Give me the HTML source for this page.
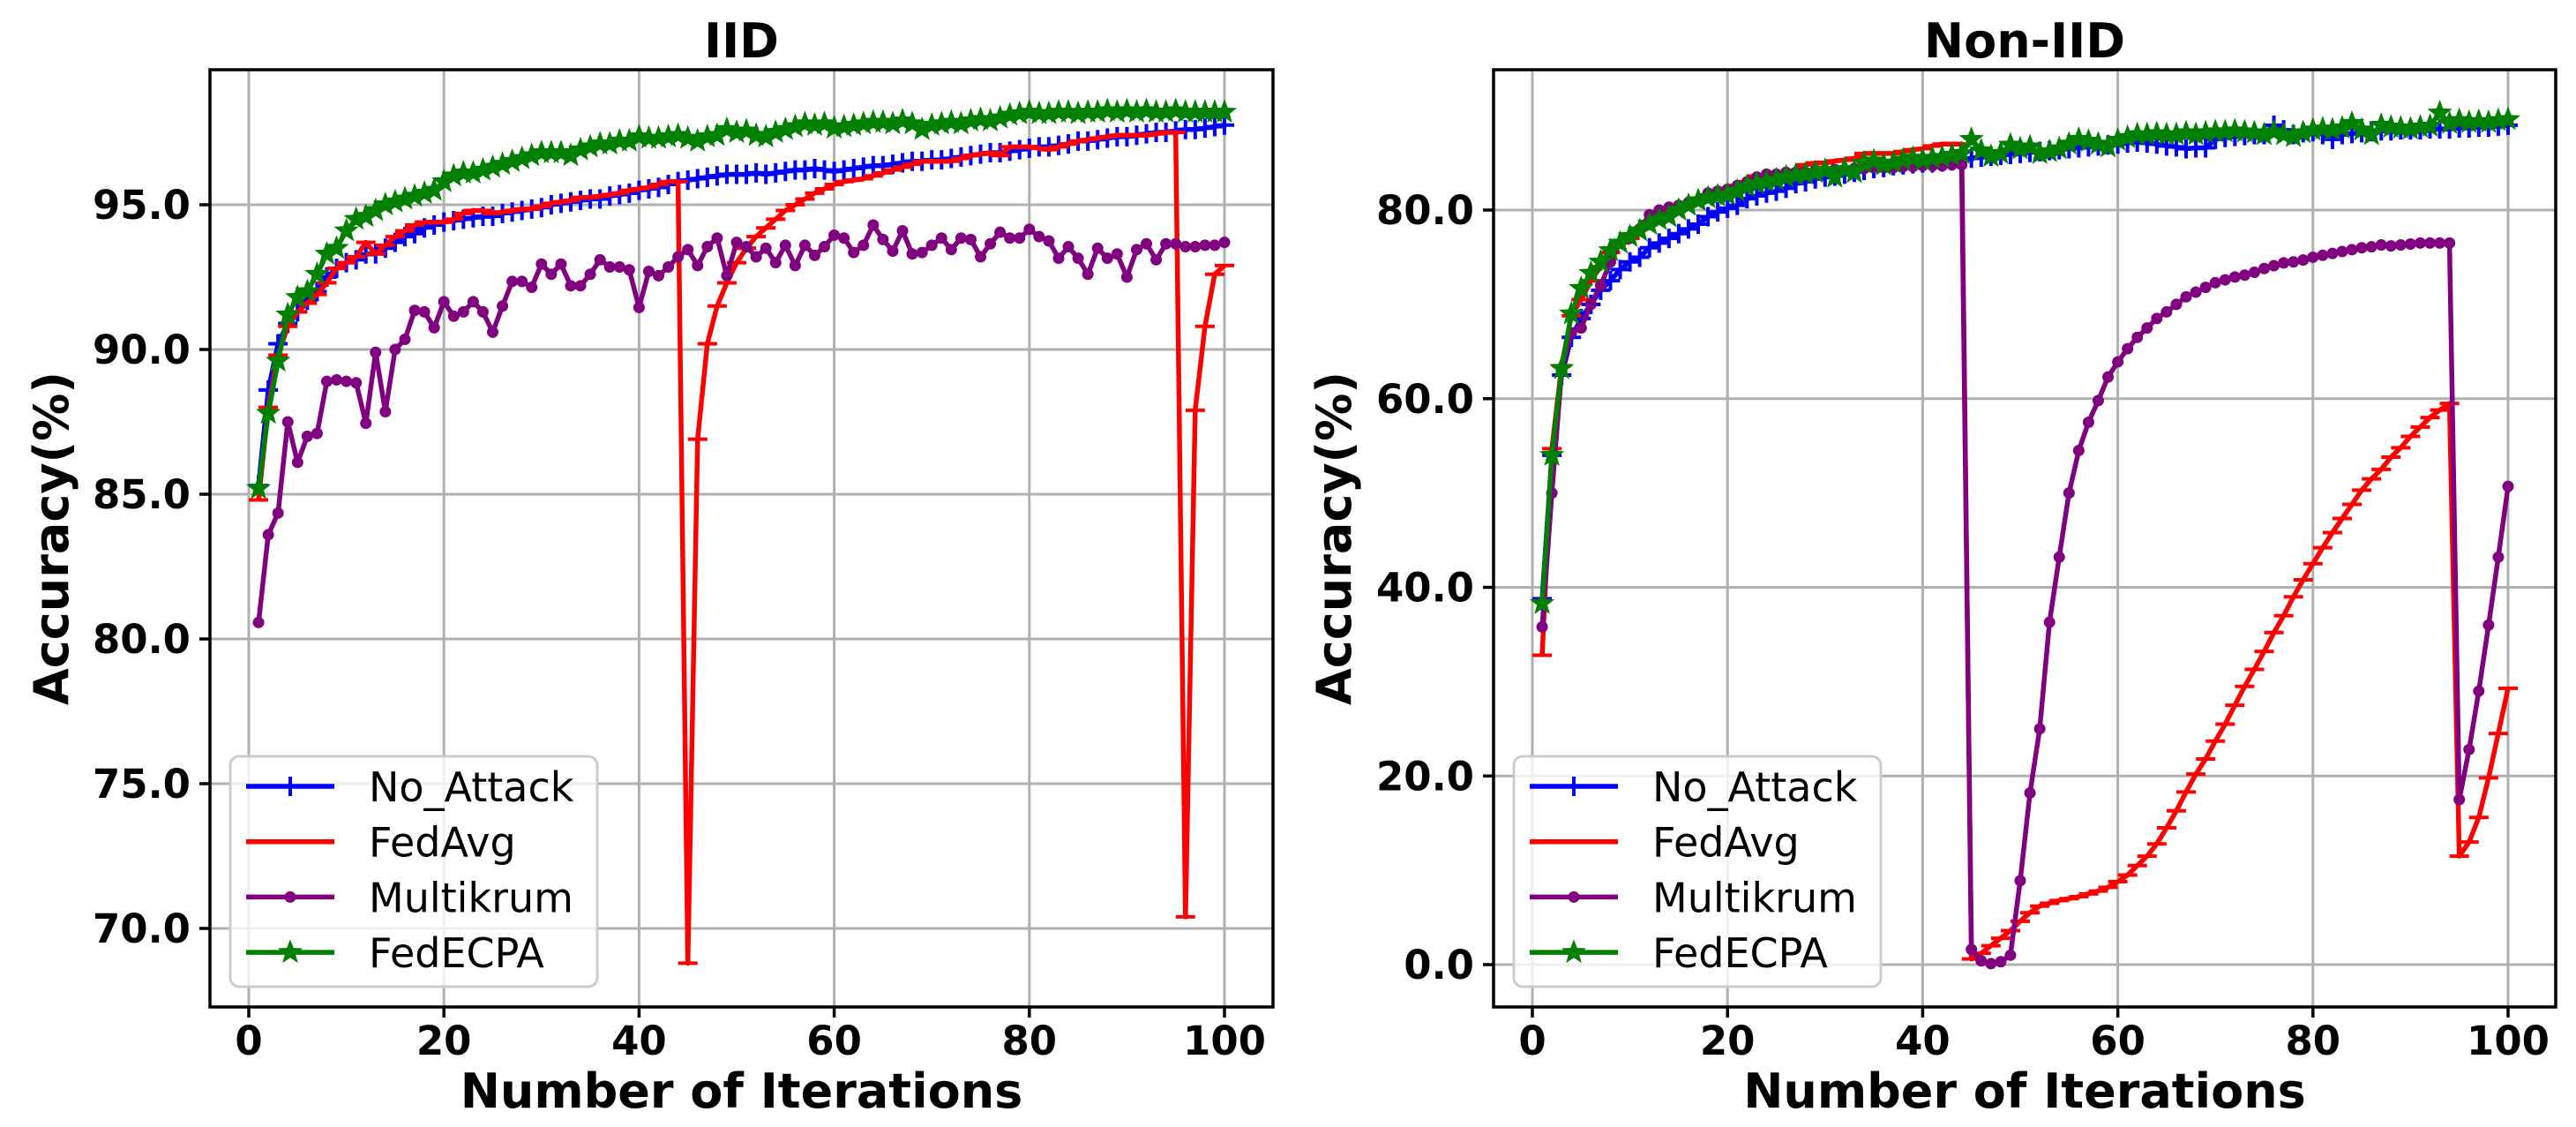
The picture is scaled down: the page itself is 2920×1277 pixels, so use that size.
<!DOCTYPE html>
<html><head><meta charset="utf-8"><style>
html,body{margin:0;padding:0;background:#fff;}
svg{display:block;font-family:"DejaVu Sans","Liberation Sans",sans-serif;}
</style></head><body>
<svg id="fig" width="2920" height="1277" viewBox="0 0 2920 1277" xmlns="http://www.w3.org/2000/svg"></svg>
<script>
const iterations = Array.from({length:100},(_, i)=>i+1);
const xTicks = [0,20,40,60,80,100];
const iidYTicks = [70,75,80,85,90,95];
const noniidYTicks = [0,20,40,60,80];
const seriesNames = ["No_Attack","FedAvg","Multikrum","FedECPA"];

const iidNoAttack = [85.3,88.6,90.2,90.9,91.3,91.7,92.0,92.5,92.8,93.0,93.1,93.3,93.3,93.5,93.7,93.9,94.0,94.2,94.3,94.4,
94.45,94.5,94.55,94.6,94.6,94.7,94.75,94.8,94.85,94.9,95.0,95.05,95.1,95.15,95.2,95.2,95.3,95.35,95.4,95.5,
95.55,95.6,95.7,95.8,95.85,95.9,95.95,96.0,96.05,96.05,96.05,96.1,96.05,96.1,96.15,96.2,96.2,96.25,96.2,96.15,
96.2,96.25,96.3,96.35,96.35,96.4,96.45,96.5,96.5,96.55,96.55,96.6,96.65,96.7,96.75,96.8,96.8,96.85,96.9,96.95,
97.0,97.0,97.05,97.1,97.2,97.2,97.25,97.3,97.35,97.35,97.4,97.45,97.5,97.5,97.55,97.6,97.6,97.65,97.7,97.75];
const iidFedAvg = [84.8,88.0,89.8,90.8,91.3,91.6,91.9,92.3,92.8,93.0,93.2,93.7,93.3,93.6,93.9,94.1,94.3,94.4,94.4,94.4,
94.5,94.7,94.8,94.8,94.7,94.75,94.8,94.85,94.85,94.95,95.05,95.1,95.15,95.25,95.25,95.3,95.35,95.4,95.5,95.55,95.6,95.7,95.8,95.8,
68.8,86.9,90.2,91.5,92.3,93.0,93.5,93.9,94.2,94.5,94.8,95.0,95.2,95.4,95.55,95.7,
95.8,95.85,95.9,96.0,96.1,96.2,96.3,96.4,96.5,96.5,96.5,96.5,96.6,96.7,96.75,96.8,96.7,97.0,97.0,97.0,
96.95,96.9,97.0,97.1,97.2,97.25,97.3,97.35,97.4,97.4,97.4,97.4,97.45,97.5,97.5,
70.4,87.9,90.8,92.6,92.9];
const iidMultikrum = [80.57,83.6,84.35,87.5,86.1,87.0,87.1,88.9,88.95,88.9,88.85,87.45,89.9,87.85,90.0,90.35,91.35,91.3,90.75,91.65,
91.15,91.3,91.65,91.3,90.6,91.5,92.35,92.35,92.15,92.95,92.6,92.95,92.2,92.2,92.6,93.1,92.85,92.85,92.75,91.45,
92.7,92.55,92.85,93.2,93.45,92.9,93.55,93.85,92.55,93.7,93.55,93.2,93.5,93.0,93.6,92.9,93.6,93.25,93.55,93.95,
93.85,93.35,93.6,94.3,93.8,93.4,94.1,93.3,93.35,93.6,93.85,93.45,93.85,93.8,93.2,93.65,94.05,93.85,93.85,94.15,
93.9,93.75,93.15,93.55,93.15,92.6,93.5,93.15,93.3,92.5,93.45,93.65,93.1,93.65,93.65,93.55,93.55,93.6,93.6,93.7];
const iidFedECPA = [85.2,87.8,89.6,91.2,91.8,92.0,92.6,93.3,93.5,94.1,94.5,94.6,94.8,95.0,95.1,95.2,95.3,95.4,95.5,95.8,
96.0,96.1,96.1,96.2,96.3,96.4,96.5,96.6,96.7,96.8,96.8,96.8,96.7,96.9,97.0,97.1,97.1,97.2,97.2,97.35,
97.3,97.3,97.35,97.4,97.3,97.2,97.35,97.4,97.6,97.5,97.55,97.4,97.35,97.5,97.6,97.7,97.8,97.75,97.8,97.65,
97.7,97.75,97.8,97.85,97.85,97.8,97.9,97.8,97.6,97.75,97.8,97.85,97.8,97.9,97.95,97.9,98.0,98.1,98.15,98.2,
98.15,98.15,98.2,98.2,98.15,98.2,98.2,98.25,98.2,98.25,98.2,98.25,98.2,98.2,98.25,98.2,98.2,98.2,98.2,98.2];

const nonNoAttack = [38.8,54.0,62.5,66.5,68.5,70.0,71.5,72.5,73.7,74.5,75.0,76.0,76.5,77.0,77.5,78.0,78.5,79.3,79.8,80.2,
80.5,81.2,81.5,81.8,82.0,82.3,82.8,83.0,83.3,83.5,83.6,83.8,84.0,84.2,84.4,84.5,84.7,84.8,84.9,85.0,
85.0,85.1,85.2,85.3,85.5,85.6,85.7,85.8,85.9,86.0,86.1,86.2,86.3,86.4,86.5,86.6,86.7,86.8,86.9,87.0,
87.1,87.2,87.1,87.0,86.8,86.7,86.5,86.6,86.6,87.5,87.7,87.8,87.9,88.0,88.0,89.0,88.5,88.0,88.2,88.3,
88.0,87.5,88.0,88.1,88.2,88.3,88.4,88.4,88.5,88.5,88.5,88.6,88.6,88.6,88.7,88.7,88.8,88.8,88.9,89.0];
const nonFedAvg = [32.8,54.7,63.5,68.8,70.5,72.5,74.0,75.5,76.5,77.0,78.0,78.8,79.3,79.8,80.3,80.8,81.2,81.6,82.0,82.3,
82.6,83.0,83.6,83.6,83.8,84.0,84.2,84.8,85.0,85.0,85.2,85.3,85.5,86.0,86.0,86.0,86.0,86.2,86.4,86.5,86.8,87.0,87.0,87.0,
0.6,1.2,2.0,2.8,3.6,4.6,5.5,6.2,6.5,6.8,7.0,7.2,7.5,7.8,8.2,8.8,9.5,10.5,11.5,12.8,14.5,16.3,18.3,20.2,21.8,23.7,
25.5,27.5,29.5,31.3,33.2,35.2,37.0,39.0,40.8,42.5,44.2,45.8,47.3,48.8,50.3,51.5,52.5,53.8,54.8,56.0,57.0,58.0,58.8,59.5,
11.5,13.0,15.6,19.8,24.5,29.3];
const nonMultikrum = [35.8,50.0,63.0,67.0,67.5,70.0,72.0,74.5,76.5,77.0,78.0,79.5,80.0,80.3,80.5,80.8,81.0,81.8,82.0,82.2,
82.6,83.0,83.5,83.8,83.8,84.0,84.0,84.0,84.2,84.2,84.3,84.3,84.4,84.4,84.5,84.5,84.5,84.6,84.6,84.7,84.7,84.7,84.8,84.8,
1.6,0.4,0.1,0.3,1.0,8.9,18.2,25.0,36.3,43.2,50.0,54.5,57.5,59.8,62.3,63.9,65.3,66.5,67.5,68.5,69.2,70.0,70.8,71.3,71.8,72.3,
72.6,72.9,73.1,73.4,73.8,74.1,74.4,74.5,74.7,75.0,75.2,75.4,75.6,75.8,76.0,76.1,76.3,76.2,76.3,76.4,76.5,76.5,76.5,76.5,
17.5,22.8,29.0,36.0,43.2,50.7];
const nonFedECPA = [38.3,54.0,63.2,69.0,71.7,73.3,74.5,75.7,76.5,77.2,77.8,78.5,79.0,79.3,80.0,80.5,81.0,81.3,81.5,81.6,
82.0,82.5,82.8,83.0,83.2,83.5,83.7,83.8,84.0,84.2,83.5,84.3,84.0,85.0,85.2,84.8,85.0,85.3,85.5,85.3,
85.5,85.6,85.8,86.0,87.5,86.3,85.7,86.0,86.9,86.5,86.7,86.0,86.2,86.5,87.0,87.5,87.3,87.0,86.7,87.4,
87.7,88.0,88.0,88.1,88.0,88.0,88.2,88.0,88.2,88.3,
88.3,88.4,88.3,88.2,88.0,88.3,88.0,87.8,88.2,88.5,88.6,88.5,88.7,89.2,88.5,88.0,89.0,88.8,88.7,88.6,88.8,88.9,90.3,89.2,89.5,89.3,89.4,89.3,89.5,89.6];

const NS = "http://www.w3.org/2000/svg";
const svg = document.getElementById('fig');
function mk(tag, attrs, parent){
  const e = document.createElementNS(NS, tag);
  for (const k in attrs) e.setAttribute(k, attrs[k]);
  (parent||svg).appendChild(e);
  return e;
}
function starPts(cx, cy, R){
  const r = R*0.42, p = [];
  for (let i=0;i<10;i++){
    const a = -Math.PI/2 + i*Math.PI/5, rr = i%2?r:R;
    p.push((cx+rr*Math.cos(a)).toFixed(1)+','+(cy+rr*Math.sin(a)).toFixed(1));
  }
  return p.join(' ');
}
function drawMarker(g, kind, x, y, color){
  let m;
  if (kind==='plus'){
    m = mk('path',{d:`M${x-11},${y}H${x+11}M${x},${y-11}V${y+11}`,stroke:color,'stroke-width':4,fill:'none'},g);
  } else if (kind==='hline'){
    m = mk('path',{d:`M${x-11},${y}H${x+11}`,stroke:color,'stroke-width':4,fill:'none'},g);
  } else if (kind==='dot'){
    m = mk('circle',{cx:x,cy:y,r:6.5,fill:color},g);
  } else {
    m = mk('polygon',{points:starPts(x,y,12),fill:color,stroke:color,'stroke-width':2},g);
  }
  
  
}
const styles = [
  {color:'#0000ff', marker:'plus'},
  {color:'#ff0000', marker:'hline'},
  {color:'#800080', marker:'dot'},
  {color:'#008000', marker:'star'}
];

function panel(cfg){
  const {id, L, R, T, B, x0, x100, yA, vA, yB, vB, yTicks, series, title, legendLeft} = cfg;
  const g = mk('g',{});
  
  
  const xs = v => x0 + (x100-x0)*v/100;
  const ys = v => yA + (yB-yA)*(v-vA)/(vB-vA);
  const cp = mk('clipPath',{id:id+'-clip'},g);
  mk('rect',{x:L,y:T,width:R-L,height:B-T},cp);
  xTicks.forEach(t=>{
    const gl = mk('line',{x1:xs(t),x2:xs(t),y1:T,y2:B,stroke:'#b0b0b0','stroke-width':3},g);
    
    
  });
  yTicks.forEach(t=>{
    const gl = mk('line',{x1:L,x2:R,y1:ys(t),y2:ys(t),stroke:'#b0b0b0','stroke-width':3},g);
    
    
  });
  const sg = mk('g',{'clip-path':`url(#${id}-clip)`},g);
  series.forEach((vals, si)=>{
    const st = styles[si];
    const d = vals.map((v,i)=>(i?'L':'M')+xs(iterations[i]).toFixed(1)+','+ys(v).toFixed(1)).join('');
    const p = mk('path',{d, fill:'none', stroke:st.color, 'stroke-width':5.5, 'stroke-linejoin':'round'},sg);
    
    
    vals.forEach((v,i)=>drawMarker(sg, st.marker, xs(iterations[i]), ys(v), st.color));
  });
  const fr = mk('rect',{x:L,y:T,width:R-L,height:B-T,fill:'none',stroke:'#000','stroke-width':3.5},g);
  
  
  xTicks.forEach(t=>{
    mk('line',{x1:xs(t),x2:xs(t),y1:B,y2:B+12,stroke:'#000','stroke-width':3.5},g);
    const tx = mk('text',{x:xs(t),y:1195,'text-anchor':'middle','font-size':45,'font-weight':'bold'},g);
    tx.textContent = t;
    
    
  });
  yTicks.forEach(t=>{
    mk('line',{x1:L-12,x2:L,y1:ys(t),y2:ys(t),stroke:'#000','stroke-width':3.5},g);
    const tx = mk('text',{x:L-22,y:ys(t)+16,'text-anchor':'end','font-size':45,'font-weight':'bold'},g);
    tx.textContent = t.toFixed(1);
    
    
  });
  const tt = mk('text',{x:(L+R)/2,y:65,'text-anchor':'middle','font-size':54,'font-weight':'bold'},g);
  tt.textContent = title;
  
  
  const xl = mk('text',{x:(L+R)/2,y:1255,'text-anchor':'middle','font-size':54,'font-weight':'bold'},g);
  xl.textContent = 'Number of Iterations';
  
  
  const ylx = cfg.ylabelX, yly = (T+B)/2;
  const yl = mk('text',{x:ylx,y:yly,'text-anchor':'middle','font-size':54,'font-weight':'bold',transform:`rotate(-90 ${ylx} ${yly}) translate(0 19)`},g);
  yl.textContent = 'Accuracy(%)';
  
  
  const lg = mk('g',{},g);
  
  
  mk('rect',{x:legendLeft,y:857,width:416,height:261,rx:10,fill:'#fff','fill-opacity':0.8,stroke:'#cccccc','stroke-width':3},lg);
  seriesNames.forEach((n,i)=>{
    const cy = 891 + i*62.7;
    const e = mk('g',{},lg);
    
    
    mk('line',{x1:legendLeft+18,x2:legendLeft+118,y1:cy,y2:cy,stroke:styles[i].color,'stroke-width':5.5},e);
    drawMarker(e, styles[i].marker, legendLeft+68, cy, styles[i].color);
    const tx = mk('text',{x:legendLeft+157,y:cy+17,'font-size':46},e);
    tx.textContent = n;
  });
}

panel({id:'iid', L:238, R:1443, T:79, B:1141, x0:282, x100:1388, yA:232, vA:95, yB:1052, vB:70,
  yTicks:iidYTicks, series:[iidNoAttack, iidFedAvg, iidMultikrum, iidFedECPA], title:'IID', legendLeft:261, ylabelX:58});
panel({id:'noniid', L:1693, R:2897, T:79, B:1141, x0:1737, x100:2843, yA:238, vA:80, yB:1093, vB:0,
  yTicks:noniidYTicks, series:[nonNoAttack, nonFedAvg, nonMultikrum, nonFedECPA], title:'Non-IID', legendLeft:1716, ylabelX:1512});
</script>
</body></html>
